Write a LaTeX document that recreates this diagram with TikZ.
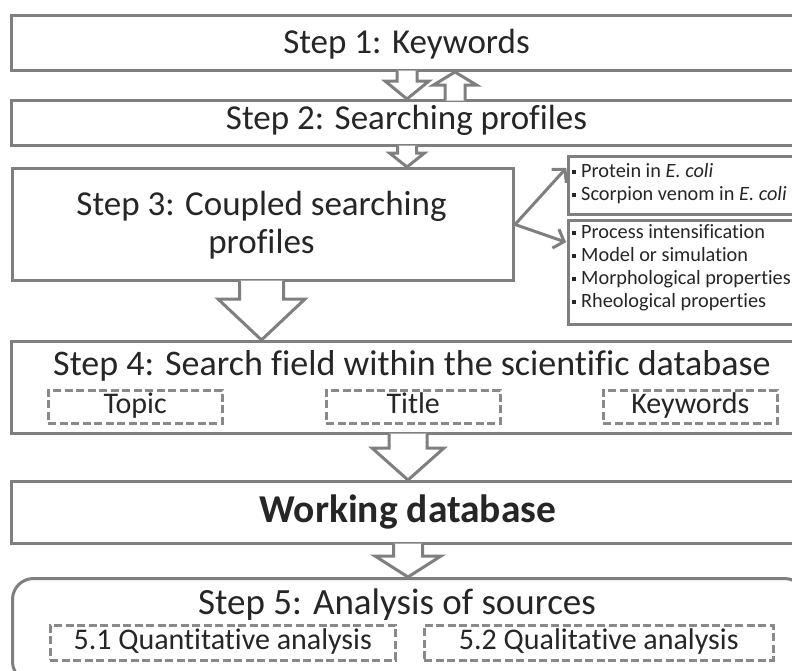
\documentclass[tikz,border=0pt]{standalone}
\usepackage{fontspec}
\setmainfont{Carlito}[Ligatures={NoCommon}]
\usetikzlibrary{arrows.meta,calc}
\definecolor{lg}{HTML}{7F7F7F}
\definecolor{dg}{HTML}{898989}
\definecolor{tx}{HTML}{262626}
\newcommand\bul{\raisebox{3.5pt}{\rule{4pt}{4pt}}\hspace{5pt}}
% block arrow downwards: #1 from node, #2 to node, #3 x centre, #4 shaft half width, #5 head half width, #6 head base below #1
\newcommand\blockdown[6]{%
  \path[barrow] let \p1=(#1.south), \p2=(#2.north) in
    (#3pt-#4pt,\y1+1.5pt) -- (#3pt-#4pt,\y1-#6pt) -- (#3pt-#5pt,\y1-#6pt) -- (#3pt,\y2)
    -- (#3pt+#5pt,\y1-#6pt) -- (#3pt+#4pt,\y1-#6pt) -- (#3pt+#4pt,\y1+1.5pt);}
% block arrow upwards: #1 from node (below), #2 to node (above)
\newcommand\blockup[6]{%
  \path[barrow] let \p1=(#1.north), \p2=(#2.south) in
    (#3pt-#4pt,\y1-1.5pt) -- (#3pt-#4pt,\y1+#6pt) -- (#3pt-#5pt,\y1+#6pt) -- (#3pt,\y2)
    -- (#3pt+#5pt,\y1+#6pt) -- (#3pt+#4pt,\y1+#6pt) -- (#3pt+#4pt,\y1-1.5pt);}
\begin{document}
\begin{tikzpicture}[x=1pt,y=-1pt,
  box/.style={draw=lg,line width=3pt,fill=white,inner sep=0pt},
  dbox/.style={draw=dg,line width=2.5pt,dash pattern=on 8pt off 3.5pt,inner sep=0pt,
    minimum width=174pt,minimum height=33pt,anchor=north west,
    font=\fontsize{30}{34}\selectfont,text=tx,text height=19pt,text depth=6pt},
  big/.style={font=\fontsize{35}{39}\selectfont,text=tx,inner sep=0pt,anchor=base},
  small/.style={font=\fontsize{20.3}{23}\selectfont,text=tx,inner sep=0pt,anchor=base west},
  barrow/.style={draw=lg,line width=3pt,fill=white,line join=miter},
  conn/.style={draw=lg,line width=3pt,-{Straight Barb[length=9pt,width=20pt]}}]

\useasboundingbox (0,0) rectangle (792,670);
\clip (0,0) rectangle (792,670);

% boxes
\node[box,anchor=north west,minimum width=793pt,minimum height=55pt] (s1) at (10,14) {};
\node[box,anchor=north west,minimum width=793pt,minimum height=45pt] (s2) at (10,99) {};
\node[box,anchor=north west,minimum width=501pt,minimum height=112pt] (s3) at (11,167) {};
\node[box,anchor=north west,minimum width=240pt,minimum height=58pt] (e1) at (567,155) {};
\node[box,anchor=north west,minimum width=240pt,minimum height=104pt] (e2) at (567,219) {};
\node[box,anchor=north west,minimum width=793pt,minimum height=92pt] (s4) at (10,340) {};
\node[box,anchor=north west,minimum width=793pt,minimum height=62pt] (wd) at (10,480) {};
\node[box,anchor=north west,minimum width=793pt,minimum height=104pt,rounded corners=21pt] (s5) at (11,577) {};

% texts
\node[big] (t1) at (406.5,53) {Step 1: Keywords};
\node[big] (t2) at (406.5,129) {Step 2: Searching profiles};
\node[big] (t3a) at (261.5,215) {Step 3: Coupled searching};
\node[big] (t3b) at (261.5,253) {profiles};
\node[big,font=\fontsize{36}{40}\selectfont] (t4) at (412,375) {Step 4: Search field within the scientific database};
\node[big,font=\fontsize{39.5}{44}\selectfont\bfseries] (twd) at (408,522) {Working database};
\node[big,font=\fontsize{37}{41}\selectfont] (t5) at (397,614) {Step 5: Analysis of sources};

\node[small] (l1) at (572,177) {\bul Protein in \textit{E. coli}};
\node[small] (l2) at (572,200) {\bul Scorpion venom in \textit{E. coli}};
\node[small] (l3) at (572,238) {\bul Process intensification};
\node[small] (l4) at (572,261.5) {\bul Model or simulation};
\node[small] (l5) at (572,284.5) {\bul Morphological properties};
\node[small] (l6) at (572,307.5) {\bul Rheological properties};

% dashed boxes
\node[dbox] (d1) at (47,389) {Topic};
\node[dbox] (d2) at (325,389) {Title};
\node[dbox] (d3) at (602,389) {Keywords};
\node[dbox,minimum width=345pt,minimum height=35pt] (d4) at (49,624) {5.1 Quantitative analysis};
\node[dbox,minimum width=349pt,minimum height=35pt] (d5) at (423,624) {5.2 Qualitative analysis};

% block arrows
\blockdown{s1}{s2}{407}{10}{22}{9}
\blockup{s2}{s1}{455}{10}{21.5}{14}
\blockdown{s2}{s3}{407}{9.5}{17.5}{6}
\blockdown{s3}{s4}{261.5}{22}{43.5}{17}
\blockdown{s4}{wd}{408}{19}{36}{13}
\blockdown{wd}{s5}{408}{14.5}{33}{11}

% connectors to the example boxes
\draw[conn,shorten >=1pt] (s3.east) -- ($(e1.north west)!0.2!(e1.south west)$);
\draw[conn,shorten >=1pt] (s3.east) -- ($(e2.north west)!0.22!(e2.south west)$);
\end{tikzpicture}
\end{document}
